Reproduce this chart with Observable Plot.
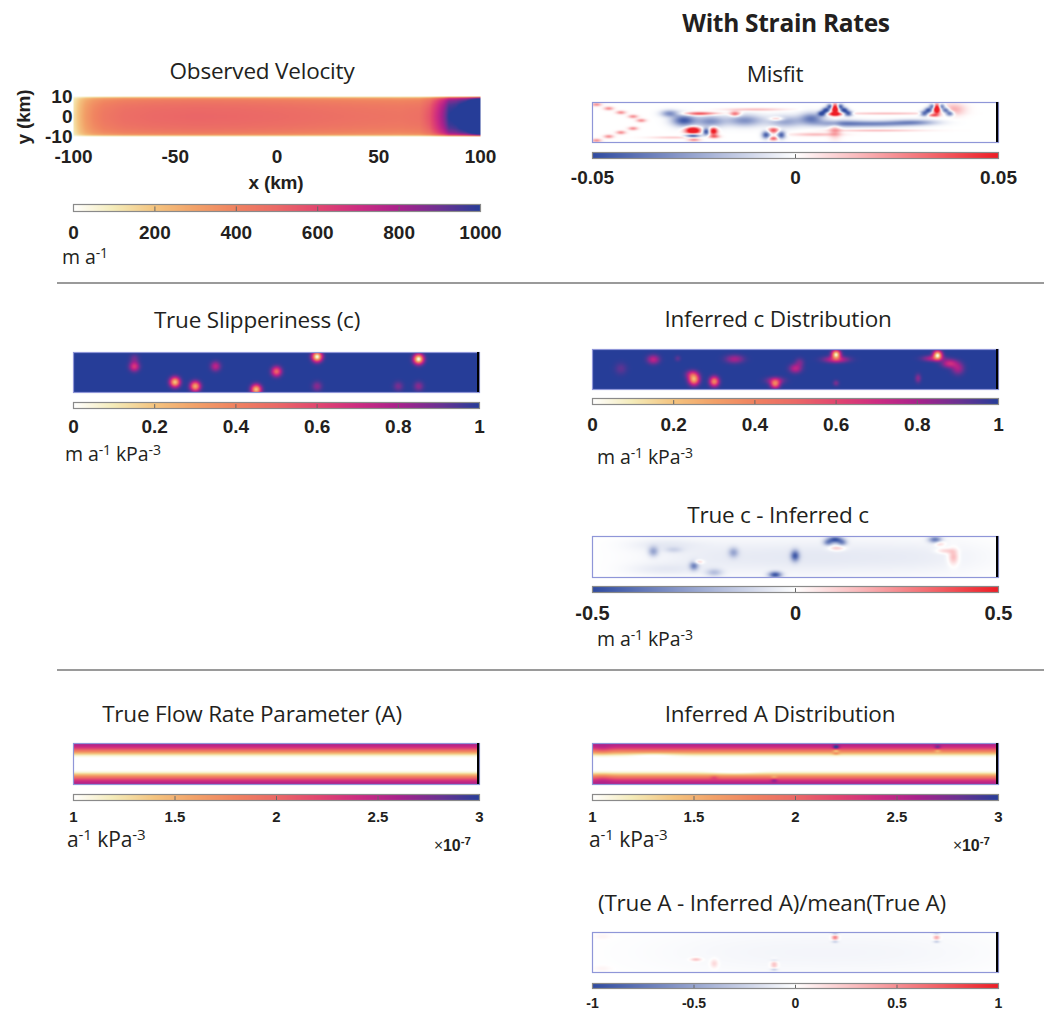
<!DOCTYPE html>
<html><head><meta charset="utf-8">
<script src="https://cdn.jsdelivr.net/npm/d3@7"></script>
<script src="https://cdn.jsdelivr.net/npm/@observablehq/plot@0.6"></script>
<style>
body{margin:0;background:#fff;}
#fig{position:relative;width:1044px;height:1013px;overflow:hidden;font-family:"Open Sans",sans-serif;color:#231f20;background:#fff;}
.abs{position:absolute;}
.abs svg{overflow:visible;}
.t{position:absolute;transform:translate(-50%,-50%);font-size:22.5px;white-space:nowrap;letter-spacing:-0.2px;}
.u{position:absolute;transform:translateY(-50%);font-size:19.5px;white-space:nowrap;line-height:1;letter-spacing:-0.1px;}
.b{font-family:"Liberation Sans",Arial,sans-serif;font-weight:bold;}
sup{font-size:0.72em;vertical-align:0.45em;line-height:0;}
.sep{position:absolute;height:2px;background:#9a9a9a;}
</style></head><body><div id="fig"></div><script>
// ---------- data ----------
const seqStops = ["#ffffff","#f4ebb8","#f4c47f","#f2a168","#f08260","#eb6966","#e2466f","#cd2c81","#a9218c","#6c3192","#263d98"];
const divStops = ["#2f4ba0","#ffffff","#ee1d25"];

// observed velocity (m/a): centre-line values along x, and cross-profile shape vs distance from wall
const velX      = [-100,-97,-94,-90,-85,-75,-60,-40,-20,0,20,40,60,70,75,79,82,84.5,86,88,90,93,96,100];
const velCenter = [120,230,320,390,440,480,500,510,505,495,480,465,455,470,560,720,850,1000,1010,1030,1075,1130,1250,1400];
const velWallDist = [0,0.5,1,2,4,6,8,10];
const velShape    = [0,0.5,0.72,0.85,0.93,0.97,0.99,1];
const velTicks = [0,200,400,600,800,1000];

// true slipperiness spots: [x km, y km, depth, sigma x, sigma y]
const trueCSpots = [
  [-70,3,0.35,1.6,1.6],[-70,7,0.1,1.5,1.5],[-50,-4.8,0.8,1.6,1.6],[-40,-6.9,0.72,1.6,1.6],
  [-30,3.1,0.25,1.6,1.6],[-10,-8.5,0.8,1.6,1.6],[0,0.5,0.5,1.6,1.6],[20,7.9,0.97,1.6,1.6],
  [20,-6.9,0.15,1.6,1.6],[60,-6.9,0.12,1.6,1.6],[70,6.7,0.97,1.6,1.6],[70,-6.9,0.15,1.6,1.6]
];
// inferred slipperiness spots
const infCSpots = [
  [-86,0.4,0.08,2,2],[-70,5,0.25,2,1.5],[-58,5.5,0.08,1,1],[-30,5.2,0.2,3,1.4],
  [-50,-5,0.72,1.7,1.8],[-51,-2.5,0.25,2,1.4],[-40,-6,0.62,1.5,1.6],[-10,-7.2,0.55,1.5,1.4],
  [-10,-5.5,0.2,3,1.2],[0,0.5,0.25,2,1.5],[2,3.5,0.12,1.5,1.5],[20,7.5,0.92,1.4,1.4],
  [20,5,0.3,4,1.1],[20,-6.8,0.12,1,1],[70,7.2,0.92,1.4,1.4],[68,5.5,0.25,3.5,1],
  [76,3,0.3,2.5,1.4],[80,0.5,0.2,2,2],[60.4,-4.4,0.15,1,1.5]
];
const cTicks = [0,0.2,0.4,0.6,0.8,1];

// misfit features: [x, y, amplitude, sigma x, sigma y]
const misfitBlobs = [
  [19.5,6.8,0.08,1.1,1.6],[19.5,4.2,0.06,2.2,0.6],
  [13,4.5,-0.05,1.4,0.9],[15,6.2,-0.05,1.3,0.9],[17,8,-0.045,1.1,0.9],
  [26,4.5,-0.05,1.4,0.9],[24,6.2,-0.05,1.3,0.9],[22,8,-0.045,1.1,0.9],
  [19.5,-4,0.02,2,2.5],
  [69.6,6.8,0.08,1.1,1.6],[68,3.6,0.035,1.8,0.5],[77.8,6.5,0.018,4,2],
  [63.5,4.5,-0.045,1.4,0.9],[65.5,6.2,-0.045,1.3,0.9],[67.5,8,-0.04,1.1,0.9],
  [76,4.5,-0.045,1.4,0.9],[74,6.2,-0.045,1.3,0.9],[72,8,-0.04,1.1,0.9],
  [-50.5,-4,0.08,2.5,1.2],[-50.5,-6.6,-0.05,2.5,0.7],[-50,-8.6,0.025,2,0.6],
  [-40.4,-4.3,0.06,1.4,1.3],[-44,-4.6,-0.05,1.2,1.2],[-40,-7,0.03,1.8,0.6],
  [-10.8,-3.9,0.04,1.8,1],[-14.5,-6.2,-0.045,1.4,1.3],[-7,-6.2,-0.045,1.4,1.3],[-10.8,-8,0.035,1.5,0.7],
  [-55,1,-0.045,4,2],[-62,4.5,-0.03,3,1.2],[-42,0.5,-0.03,5,2],[-25,1,-0.03,6,2],
  [-5,0.5,-0.025,6,2],[8,2,-0.035,4,2],[22,-0.5,-0.03,8,1.2],[40,-0.7,-0.03,10,1],[58,0,-0.03,8,1],
  [-29.7,4.3,0.035,1.8,0.9],[-48.6,4.3,0.025,5,0.7],[-9.2,1.8,0.025,2.5,0.7],
  [-98,9,0.025,1.6,0.6],[-92,7,0.025,1.6,0.6],[-86,5,0.025,1.6,0.6],[-80,3,0.025,1.6,0.6],[-76,1,0.025,1.6,0.6],
  [-98,-9,0.025,1.6,0.6],[-92,-7,0.025,1.6,0.6],[-86,-5,0.025,1.6,0.6],[-80,-3,0.025,1.6,0.6],
  [-45,4.5,0.02,6,0.5],[-20,6.5,0.015,10,0.5],[10,-6,0.015,8,0.6],
  [45,4.5,0.015,15,0.4],[40,-4,0.015,15,0.4],[-60,-7.5,0.012,8,0.4]
];
const misfitTicks = [-0.05,0,0.05];

// true c - inferred c features
const cDiffBlobs = [
  [-40,0,-0.045,25,6],[10,0,-0.05,25,6],[60,0,-0.045,25,6],[-65,6,-0.045,12,2],[-65,-6,-0.045,12,2],
  [-70,2.7,-0.22,1.7,1.7],[-60,3.5,-0.08,3,1],[-50,-4.3,-0.3,1.5,1.5],[-47.8,-2.4,0.15,1.7,0.7],
  [-40,-7.6,-0.15,2.8,1.3],[-30.5,2.2,-0.2,1.7,1.7],[-10,-8.7,-0.45,2.2,1.1],[-0.2,0.6,-0.4,1.5,1.9],
  [19.5,8.5,-0.45,2.6,1.1],[16,7,-0.25,1.6,1],[23,7,-0.25,1.6,1],[20.4,4.3,0.15,2.6,0.9],
  [68.8,8.5,-0.35,2.2,1.1],[71,6.5,0.12,1.7,0.9],[77.8,0,0.18,1.7,2.6],[74,3,0.12,3,0.9]
];
const cDiffTicks = [-0.5,0,0.5];

// true A profile (x1e-7) versus |y|
const aAbsY = [0,3,4,5,6,7,8,9,10];
const aVal  = [1,1,1.1,1.4,1.75,2.05,2.35,2.5,2.6];
// inferred A perturbations
const infABlobs = [
  [20,8.2,0.7,1.1,0.7],[20,6.5,-0.5,1.1,0.5],[20,5,0.3,1.1,0.4],
  [70,8.2,0.4,1.1,0.7],[70,6.5,-0.4,1.1,0.5],
  [-10.5,-8,0.35,1.1,0.6],[-10.5,-6.5,-0.3,1.1,0.5],[-40,-6.5,0.25,1.3,0.6],
  [-95,7,0.15,3,1.5],[-95,-7,0.15,3,1.5],[-30,-4,-0.15,8,0.8],[-70,4.5,-0.15,8,0.8]
];
const aTicks = [1,1.5,2,2.5,3];

// (true A - inferred A)/mean(true A)
const relABlobs = [
  [-20,0,-0.04,40,8],[50,0,-0.04,40,8],
  [19.5,7.5,0.6,1.1,1],[19.5,9.3,-0.4,1.1,0.5],[19.5,5.5,-0.3,1.1,0.5],
  [69.5,7.5,0.4,1.1,1],[69.5,9.3,-0.3,1.1,0.5],[69.5,5.5,-0.3,1.1,0.5],
  [-10.5,-6,0.3,1.2,1.5],[-10.5,-8.5,-0.3,1.2,0.5],[-10.5,-4,-0.2,1.2,0.5],
  [-40,-5.5,0.2,1.3,1.5],[-49,-3.5,0.3,1.8,0.6],[-95,8,0.05,3,1],[-95,-8,0.05,3,1]
];
const relTicks = [-1,-0.5,0,0.5,1];

const meshEdgeX = 99.3;

// ---------- helpers ----------
const fig = document.getElementById("fig");
const seqInterp = d3.piecewise(d3.interpolateRgb, seqStops);
const divInterp = d3.piecewise(d3.interpolateRgb, divStops);
const lin = (xs, ys) => d3.scaleLinear().domain(xs).range(ys).clamp(true);
const sumBlobs = (blobs, x, y) => blobs.reduce((s, [bx, by, a, sx, sy]) =>
  s + a * Math.exp(-(((x - bx) ** 2) / (2 * sx * sx) + ((y - by) ** 2) / (2 * sy * sy))), 0);

function place(node, left, top) {
  const d = document.createElement("div");
  d.className = "abs"; d.style.left = left + "px"; d.style.top = top + "px";
  d.appendChild(node); fig.appendChild(d);
}
function text(cls, html, x, y, extra = "") {
  const d = document.createElement("div");
  d.className = cls; d.innerHTML = html;
  d.style.left = x + "px"; d.style.top = y + "px";
  if (extra) d.style.cssText += extra;
  fig.appendChild(d);
}
function colorScale(domain, interp) {
  return {type: "linear", domain, interpolate: interp, clamp: true};
}
function heat({L, T, W, H, fill, domain, interp, frame = "#8f96d8", edge = true}) {
  const marks = [
    Plot.raster({fill, x1: -100, x2: 100, y1: -10, y2: 10, width: W, height: H})
  ];
  if (frame) marks.push(Plot.frame({stroke: frame, strokeWidth: 1.2}));
  if (edge) marks.push(Plot.ruleX([meshEdgeX], {stroke: "black", strokeWidth: 2.2}));
  const p = Plot.plot({
    width: W, height: H, margin: 0,
    x: {domain: [-100, 100], axis: null}, y: {domain: [-10, 10], axis: null},
    color: colorScale(domain, interp), marks
  });
  place(p, L, T);
}
function bar({L, T, W, H, domain, interp, ticks, inner, pad, fs}) {
  const ml = 40, mr = 40, mb = 30;
  const p = Plot.plot({
    width: W + ml + mr, height: H + mb, marginLeft: ml, marginRight: mr, marginTop: 0, marginBottom: mb,
    x: {domain}, y: {domain: [0, 1], axis: null},
    color: colorScale(domain, interp),
    style: {fontFamily: "'Liberation Sans', Arial, sans-serif", fontWeight: "bold", fontSize: fs + "px", color: "#231f20", overflow: "visible"},
    marks: [
      Plot.raster({fill: (x, y) => x, x1: domain[0], x2: domain[1], y1: 0, y2: 1, width: W, height: 1}),
      Plot.frame({stroke: "#8a8a8a", strokeWidth: 1.2}),
      Plot.tickX(inner, {stroke: "#666", strokeWidth: 1, insetTop: H * 0.35}),
      Plot.axisX({ticks, tickSize: 0, tickPadding: pad, tickFormat: d => String(d), label: null})
    ]
  });
  place(p, L - ml, T);
}

// ---------- title ----------
text("t", "<b>With Strain Rates</b>", 786, 22, "font-size:24.5px;letter-spacing:-0.3px;");

// ---------- Observed velocity (with axes) ----------
const vCenter = lin(velX, velCenter), vShape = lin(velWallDist, velShape);
{
  const W = 407, H = 40, ml = 73, mr = 40, mt = 14, mb = 40;
  const p = Plot.plot({
    width: W + ml + mr, height: H + mt + mb, marginLeft: ml, marginRight: mr, marginTop: mt, marginBottom: mb,
    x: {domain: [-100, 100]}, y: {domain: [-10, 10]},
    color: colorScale([0, 1000], seqInterp),
    style: {fontFamily: "'Liberation Sans', Arial, sans-serif", fontWeight: "bold", fontSize: "19px", color: "#231f20", overflow: "visible"},
    marks: [
      Plot.raster({fill: (x, y) => vCenter(x) * vShape(10 - Math.abs(y)), x1: -100, x2: 100, y1: -10, y2: 10, width: W, height: H}),
      Plot.axisY({ticks: [-10, 0, 10], tickSize: 0, tickPadding: 1, tickFormat: d => String(d), label: null}),
      Plot.axisX({ticks: [-100, -50, 0, 50, 100], tickSize: 0, tickPadding: 13, tickFormat: d => String(d), label: null})
    ]
  });
  place(p, 0, 96 - mt);
}
text("t", "Observed Velocity", 262, 70);
text("t b", "x (km)", 276, 183, "font-size:19px;");
text("t b", "y (km)", 24, 117, "font-size:19px;transform:translate(-50%,-50%) rotate(-90deg);");
bar({L: 73, T: 204, W: 407, H: 7, domain: [0, 1000], interp: seqInterp, ticks: velTicks, inner: [200, 400, 600, 800], pad: 14, fs: 19});
text("u", "m a<sup>-1</sup>", 62, 257);

// ---------- Misfit ----------
text("t", "Misfit", 775, 73);
heat({L: 592, T: 102, W: 406, H: 40, fill: (x, y) => sumBlobs(misfitBlobs, x, y), domain: [-0.05, 0.05], interp: divInterp});
bar({L: 592, T: 152, W: 406, H: 6, domain: [-0.05, 0.05], interp: divInterp, ticks: misfitTicks, inner: [0], pad: 12, fs: 19});

// separators
const s1 = document.createElement("div"); s1.className = "sep"; s1.style.cssText += "left:57px;top:282px;width:987px;"; fig.appendChild(s1);
const s2 = document.createElement("div"); s2.className = "sep"; s2.style.cssText += "left:57px;top:669px;width:987px;"; fig.appendChild(s2);

// ---------- True slipperiness ----------
text("t", "True Slipperiness (c)", 257, 319);
heat({L: 73, T: 352, W: 406, H: 40, fill: (x, y) => 1 - sumBlobs(trueCSpots, x, y), domain: [0, 1], interp: seqInterp});
bar({L: 73, T: 402, W: 406, H: 6, domain: [0, 1], interp: seqInterp, ticks: cTicks, inner: [0.2, 0.4, 0.6, 0.8], pad: 11, fs: 19});
text("u", "m a<sup>-1</sup> kPa<sup>-3</sup>", 65, 454);

// ---------- Inferred c ----------
text("t", "Inferred c Distribution", 778, 318);
heat({L: 592, T: 349, W: 406, H: 40, fill: (x, y) => 1 - sumBlobs(infCSpots, x, y), domain: [0, 1], interp: seqInterp});
bar({L: 592, T: 398, W: 406, H: 6, domain: [0, 1], interp: seqInterp, ticks: cTicks, inner: [0.2, 0.4, 0.6, 0.8], pad: 13, fs: 19});
text("u", "m a<sup>-1</sup> kPa<sup>-3</sup>", 597, 457);

// ---------- True c - Inferred c ----------
text("t", "True c - Inferred c", 778, 514);
heat({L: 592, T: 536, W: 406, H: 41, fill: (x, y) => sumBlobs(cDiffBlobs, x, y), domain: [-0.5, 0.5], interp: divInterp});
bar({L: 592, T: 586, W: 406, H: 6, domain: [-0.5, 0.5], interp: divInterp, ticks: cDiffTicks, inner: [0], pad: 13, fs: 20});
text("u", "m a<sup>-1</sup> kPa<sup>-3</sup>", 597, 639);

// ---------- True A ----------
const aProfile = lin(aAbsY, aVal);
text("t", "True Flow Rate Parameter (A)", 252, 713);
heat({L: 73, T: 743, W: 406, H: 41, fill: (x, y) => aProfile(Math.abs(y)), domain: [1, 3], interp: seqInterp});
bar({L: 73, T: 794, W: 406, H: 6, domain: [1, 3], interp: seqInterp, ticks: aTicks, inner: [1.5, 2, 2.5], pad: 11, fs: 15});
text("u", "a<sup>-1</sup> kPa<sup>-3</sup>", 67, 839, "font-size:21px;");
text("u", "×<b class='b'>10<sup>-7</sup></b>", 434, 845, "font-size:16px;");

// ---------- Inferred A ----------
text("t", "Inferred A Distribution", 780, 713);
heat({L: 592, T: 743, W: 406, H: 41, fill: (x, y) => aProfile(Math.abs(y)) + sumBlobs(infABlobs, x, y), domain: [1, 3], interp: seqInterp});
bar({L: 592, T: 794, W: 406, H: 6, domain: [1, 3], interp: seqInterp, ticks: aTicks, inner: [1.5, 2, 2.5], pad: 11, fs: 15});
text("u", "a<sup>-1</sup> kPa<sup>-3</sup>", 589, 839, "font-size:21px;");
text("u", "×<b class='b'>10<sup>-7</sup></b>", 953, 845, "font-size:16px;");

// ---------- Relative A error ----------
text("t", "(True A - Inferred A)/mean(True A)", 772, 902);
heat({L: 592, T: 932, W: 406, H: 40, fill: (x, y) => sumBlobs(relABlobs, x, y), domain: [-1, 1], interp: divInterp});
bar({L: 592, T: 983, W: 406, H: 5, domain: [-1, 1], interp: divInterp, ticks: relTicks, inner: [-0.5, 0, 0.5], pad: 10, fs: 14});
</script></body></html>
